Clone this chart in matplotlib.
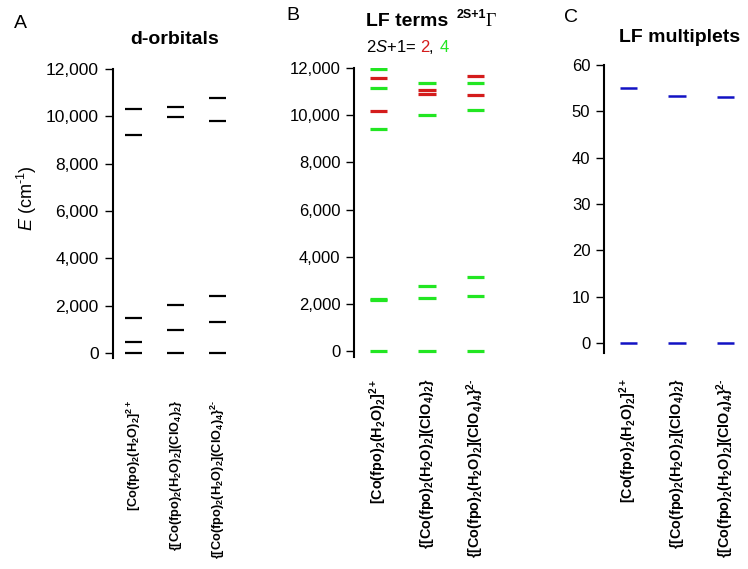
import numpy as np
import matplotlib
matplotlib.use("Agg")
import matplotlib.pyplot as plt
from matplotlib.ticker import FuncFormatter

plt.rcParams['font.family'] = ['Liberation Sans', 'DejaVu Sans']
plt.rcParams['mathtext.fontset'] = 'custom'
plt.rcParams['mathtext.rm'] = 'Liberation Sans'
plt.rcParams['mathtext.it'] = 'Liberation Sans:italic'
plt.rcParams['mathtext.bf'] = 'Liberation Sans:bold'

# data
compounds = [r"[Co(fpo)$_\mathbf{2}$(H$_\mathbf{2}$O)$_\mathbf{2}$]$^\mathbf{2+}$",
             r"{[Co(fpo)$_\mathbf{2}$(H$_\mathbf{2}$O)$_\mathbf{2}$](ClO$_\mathbf{4}$)$_\mathbf{2}$}",
             "{[Co(fpo)$_\\mathbf{2}$(H$_\\mathbf{2}$O)$_\\mathbf{2}$](ClO$_\\mathbf{4}$)$_\\mathbf{4}$}$^\\mathbf{2\u2010}$"]
d_orbitals = [[0, 480, 1490, 9210, 10310],
              [0, 970, 2030, 9990, 10380],
              [0, 1300, 2420, 9820, 10790]]
quartets = [[0, 2140, 2200, 9410, 11180, 11990],
            [0, 2230, 2750, 10030, 11370],
            [0, 2340, 3120, 10220, 11360]]
doublets = [[10170, 11600],
            [10920, 11090],
            [10850, 11680]]
multiplets = [[0, 55.0],
              [0, 53.3],
              [0, 53.2]]

red = '#d41c1c'
green = '#22e622'
blue = '#1212c4'

fig = plt.figure(figsize=(7.48, 5.69), dpi=100)
W, H = 748., 569.

def make_ax(x0, x1, ytop, ybot, fs=12):
    ax = fig.add_axes([x0/W, 1-ybot/H, (x1-x0)/W, (ybot-ytop)/H])
    for s in ['top', 'right', 'bottom']:
        ax.spines[s].set_visible(False)
    ax.spines['left'].set_linewidth(1.5)
    ax.tick_params(axis='y', direction='out', length=6, width=1.0, pad=4, labelsize=fs)
    ax.tick_params(axis='x', length=0)
    ax.set_xlim(0.5, 3.5)
    return ax

comma = FuncFormatter(lambda v, p: '{:,.0f}'.format(v))

# A: d-orbitals
axA = make_ax(112.5, 238.5, 69, 358.3, fs=12.5)
for i, lv in enumerate(d_orbitals):
    axA.hlines(lv, i+1-0.21, i+1+0.21, color='black', lw=1.6)
axA.set_ylim(-220, 12000)
axA.set_yticks(np.arange(0, 12001, 2000))
axA.yaxis.set_major_formatter(comma)
axA.set_xticks([1, 2, 3])
axA.set_xticklabels(compounds, rotation=90, fontsize=9.2, fontweight='bold')
axA.tick_params(axis='x', pad=30)

# B: LF terms
axB = make_ax(354.25, 499.75, 68.3, 356.7)
for i, lv in enumerate(quartets):
    axB.hlines(lv, i+1-0.18, i+1+0.18, color=green, lw=2.3)
for i, lv in enumerate(doublets):
    axB.hlines(lv, i+1-0.18, i+1+0.18, color=red, lw=2.3)
axB.set_ylim(-250, 12000)
axB.set_yticks(np.arange(0, 12001, 2000))
axB.yaxis.set_major_formatter(comma)
axB.set_xticks([1, 2, 3])
axB.set_xticklabels(compounds, rotation=90, fontsize=10.4, fontweight='bold')
axB.tick_params(axis='x', pad=16)

# C: LF multiplets
axC = make_ax(604.25, 749.75, 65, 353.3)
for i, lv in enumerate(multiplets):
    axC.hlines(lv, i+1-0.18, i+1+0.18, color=blue, lw=1.8)
axC.set_ylim(-2.2, 60)
axC.set_yticks(np.arange(0, 61, 10))
axC.set_xticks([1, 2, 3])
axC.set_xticklabels(compounds, rotation=90, fontsize=10.4, fontweight='bold')
axC.tick_params(axis='x', pad=18)

# titles and panel letters
def ftext(x, y, s, **kw):
    fig.text(x/W, 1-y/H, s, **kw)

ftext(27, 198, '$\\it{E}$ (cm$^{\u2010\\mathrm{1}}$)', fontsize=13, rotation=90, ha='center', va='center')

ftext(20, 24, 'A', fontsize=14, ha='center', va='center')
ftext(293, 16, 'B', fontsize=14, ha='center', va='center')
ftext(571, 18, 'C', fontsize=14, ha='center', va='center')

ftext(175, 40, 'd-orbitals', fontsize=14, fontweight='bold', ha='center', va='center')
ftext(680, 38, 'LF multiplets', fontsize=14, fontweight='bold', ha='center', va='center')

ftext(366, 21, 'LF terms', fontsize=14, fontweight='bold', ha='left', va='center')
ftext(457, 15, '2S+1', fontsize=9, fontweight='bold', ha='left', va='center')
ftext(486, 21, '\u0393', fontsize=13, family='Liberation Serif', ha='left', va='center')

ftext(366, 47, r'2$\it{S}$+1=', fontsize=12, ha='left', va='center')
ftext(420, 47, '2', fontsize=12, color=red, ha='left', va='center')
ftext(429, 47, ',', fontsize=12, ha='left', va='center')
ftext(439.5, 47, '4', fontsize=12, color=green, ha='left', va='center')

fig.savefig('out.png', dpi=100)
